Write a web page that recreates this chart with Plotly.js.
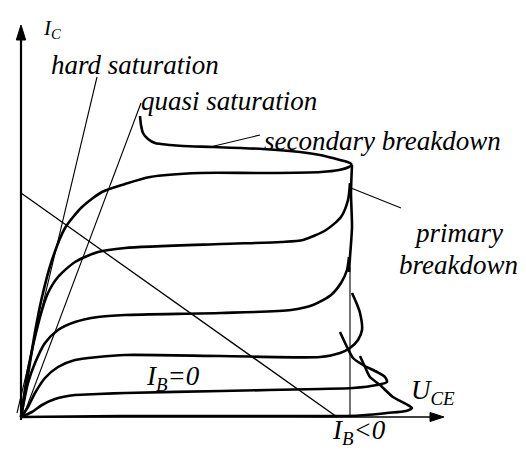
<!DOCTYPE html>
<html>
<head>
<meta charset="utf-8">
<script src="https://cdn.plot.ly/plotly-3.0.1.min.js"></script>
<style>
html,body{margin:0;padding:0;background:#fff;}
#chart{width:526px;height:450px;}
</style>
</head>
<body>
<div id="chart"></div>
<script>
// Schematic output characteristics (U_CE horizontal, I_C vertical), in drawing units
const curveIBneg_x = [0, 100, 250, 326, 345, 366, 385, 391, 385, 372, 359, 349, 344, 339];
const curveIBneg_y = [0, 1, 1, 1, 2, 4, 6, 9, 13, 20, 32, 40, 50, 61];

const curveIB0_x = [0, 11, 21, 34, 54, 77, 104, 200, 299, 332, 356, 366, 364, 356, 342, 332, 326, 319];
const curveIB0_y = [0, 5, 12, 18, 22, 23, 24, 26, 28, 29, 32, 35, 40, 45, 52, 59, 70, 85];

const curve2_x = [0, 7, 14, 24, 37, 54, 77, 104, 200, 299, 319, 329, 337, 341, 339, 335, 331];
const curve2_y = [0, 10, 24, 39, 50, 57, 60, 62, 61, 60, 64, 69, 77, 87, 104, 115, 124];

const curve3_x = [0, 7, 14, 24, 37, 54, 77, 104, 200, 270, 292, 310, 320, 326, 328];
const curve3_y = [0, 34, 54, 74, 87, 95, 100, 102, 104, 107, 112, 122, 134, 147, 160];

const curve4_x = [0, 7, 14, 21, 27, 37, 54, 77, 104, 200, 260, 282, 305, 320, 327, 329];
const curve4_y = [0, 47, 80, 107, 124, 140, 155, 165, 169, 173, 175, 177, 187, 200, 217, 234];

const curve5_x = [0, 7, 14, 21, 31, 44, 61, 81, 104, 129, 179, 242, 300, 318, 328, 331];
const curve5_y = [0, 42, 85, 120, 157, 189, 210, 225, 233, 240, 244, 244, 245, 247, 250, 252];

const secBreak_x = [119, 120, 122, 127, 134, 149, 162, 192, 242, 279, 299, 319, 329, 331];
const secBreak_y = [301, 292, 284, 278, 274, 272, 271, 270, 268, 265, 262, 257, 254, 252];

const primBreak_x = [331, 330, 331, 329, 328];
const primBreak_y = [252, 224, 190, 160, 145];

const primBreakThin_x = [329, 329];
const primBreakThin_y = [0, 150];

const loadLine_x = [0, 316];
const loadLine_y = [224, 0];

const hardSatLeader_x = [76, -4];
const hardSatLeader_y = [340, 4];
const quasiSatLeader_x = [120, 2];
const quasiSatLeader_y = [314, 0];
const secLeader_x = [189, 239];
const secLeader_y = [270, 282];
const primLeader_x = [330, 380];
const primLeader_y = [229, 209];

const axisXEnd = 423;   // U_CE arrow tip
const axisYEnd = 392;   // I_C arrow tip

const labels = [
  {text: "I<sub>C</sub>", x: 20, y: 388, size: 21},
  {text: "hard saturation", x: 28, y: 352, size: 27},
  {text: "quasi saturation", x: 118, y: 316, size: 27},
  {text: "secondary breakdown", x: 241, y: 276, size: 27},
  {text: "primary", x: 391, y: 184, size: 27},
  {text: "breakdown", x: 376, y: 152, size: 27},
  {text: "I<sub>B</sub>=0", x: 123, y: 39, size: 27},
  {text: "U<sub>CE</sub>", x: 388, y: 25, size: 27},
  {text: "I<sub>B</sub>&lt;0", x: 309, y: -15, size: 27}
];

const thick = {color: '#000', width: 2.6, shape: 'spline', smoothing: 0.7};
const thin = {color: '#000', width: 1.1};

function tr(x, y, line) {
  return {x: x, y: y, type: 'scatter', mode: 'lines', line: line, hoverinfo: 'skip', showlegend: false};
}

const traces = [
  tr([0, axisXEnd - 12], [0, 0], {color: '#000', width: 1.6}),
  tr([0, 0], [-3, axisYEnd - 13], {color: '#000', width: 2.2}),
  {x: [axisXEnd, axisXEnd - 14, axisXEnd - 14, axisXEnd], y: [0, 4.5, -4.5, 0], type: 'scatter', mode: 'lines',
   fill: 'toself', fillcolor: '#000', line: {color: '#000', width: 1}, hoverinfo: 'skip', showlegend: false},
  {x: [0, -4.7, 4.7, 0], y: [axisYEnd, axisYEnd - 15, axisYEnd - 15, axisYEnd], type: 'scatter', mode: 'lines',
   fill: 'toself', fillcolor: '#000', line: {color: '#000', width: 1}, hoverinfo: 'skip', showlegend: false},
  tr(primBreakThin_x, primBreakThin_y, thin),
  tr(loadLine_x, loadLine_y, {color: '#000', width: 1.3}),
  tr(hardSatLeader_x, hardSatLeader_y, thin),
  tr(quasiSatLeader_x, quasiSatLeader_y, thin),
  tr(secLeader_x, secLeader_y, thin),
  tr(primLeader_x, primLeader_y, thin),
  tr(curveIBneg_x, curveIBneg_y, thick),
  tr(curveIB0_x, curveIB0_y, thick),
  tr(curve2_x, curve2_y, thick),
  tr(curve3_x, curve3_y, thick),
  tr(curve4_x, curve4_y, thick),
  tr(curve5_x, curve5_y, thick),
  tr(secBreak_x, secBreak_y, thick),
  tr(primBreak_x, primBreak_y, thick)
];

const serif = "Liberation Serif";
const annotations = labels.map(l => ({
  text: l.text, x: l.x, y: l.y, xref: 'x', yref: 'y',
  xanchor: 'left', yanchor: 'middle', align: 'left', showarrow: false,
  font: {family: serif, size: l.size, color: '#000', style: 'italic'}
}));

const layout = {
  width: 526, height: 450,
  margin: {l: 0, r: 0, t: 0, b: 0},
  paper_bgcolor: '#fff', plot_bgcolor: '#fff',
  font: {family: serif, style: 'italic'},
  xaxis: {range: [-21, 505], visible: false, fixedrange: true},
  yaxis: {range: [-33, 417], visible: false, fixedrange: true},
  annotations: annotations,
  showlegend: false
};

Plotly.newPlot('chart', traces, layout, {displayModeBar: false, staticPlot: true});
</script>
</body>
</html>
